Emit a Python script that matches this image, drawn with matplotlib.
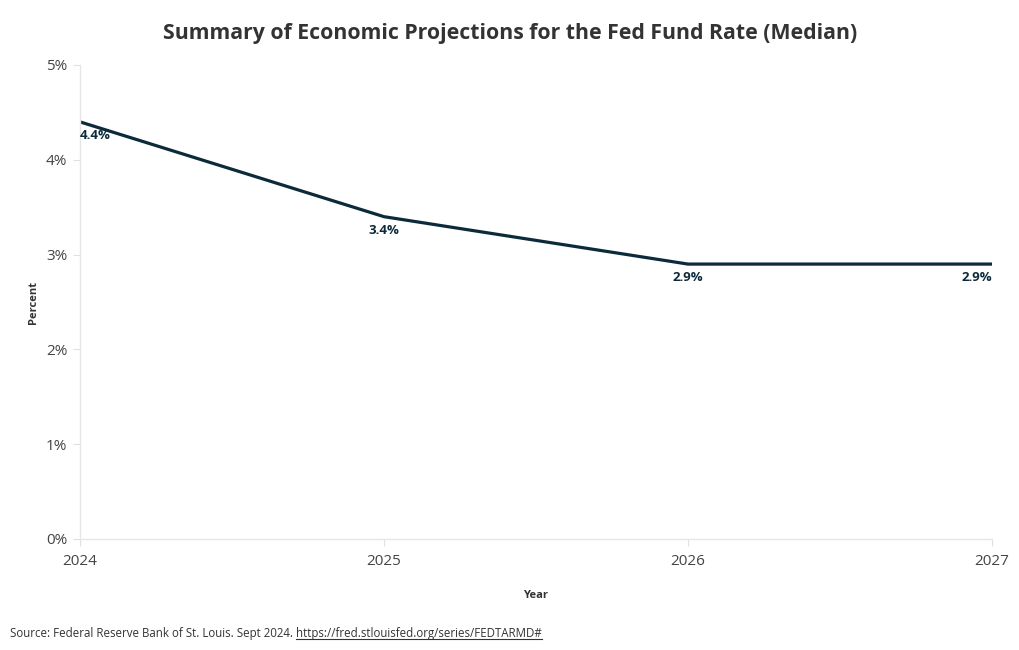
import matplotlib.pyplot as plt
from matplotlib.ticker import FuncFormatter

# Data
years = [2024, 2025, 2026, 2027]
rates = [4.4, 3.4, 2.9, 2.9]
labels = ['4.4%', '3.4%', '2.9%', '2.9%']

plt.rcParams['font.family'] = ['Open Sans', 'DejaVu Sans']

fig = plt.figure(figsize=(10.2, 6.5), dpi=100)
ax = fig.add_axes([80 / 1020, 1 - 539 / 650, 912 / 1020, 474 / 650])

line_color = '#0b2a3a'
ax.plot(years, rates, color=line_color, linewidth=2.3, solid_capstyle='butt')

# point labels, sitting just under each point
for i, (x, y, lab) in enumerate(zip(years, rates, labels)):
    ha = 'left' if i == 0 else ('right' if i == len(years) - 1 else 'center')
    ax.annotate(lab, (x, y), xytext=(0, -5), textcoords='offset points',
                ha=ha, va='top', fontsize=9.5, fontweight='bold', color=line_color)

ax.set_xlim(2024, 2027)
ax.set_ylim(0, 5)
ax.set_xticks(years)
ax.set_yticks([0, 1, 2, 3, 4, 5])
ax.yaxis.set_major_formatter(FuncFormatter(lambda v, p: f'{v:.0f}%'))

for s in ['top', 'right']:
    ax.spines[s].set_visible(False)
for s in ['left', 'bottom']:
    ax.spines[s].set_color('#e6e6e6')
    ax.spines[s].set_linewidth(1)

ax.tick_params(axis='both', colors='#e0e0e0', labelcolor='#444444', labelsize=11, length=5)
ax.tick_params(axis='x', pad=6)
ax.tick_params(axis='y', pad=4)

ax.set_xlabel('Year', fontsize=8, fontweight='bold', color='#333333', labelpad=15)
ax.set_ylabel('Percent', fontsize=8, fontweight='bold', color='#333333', labelpad=5)

fig.text(0.5, 0.949, 'Summary of Economic Projections for the Fed Fund Rate (Median)',
         ha='center', va='center', fontsize=15.3, fontweight='bold', color='#333333')

src = fig.text(10 / 1020, 1 - 633 / 650, 'Source: Federal Reserve Bank of St. Louis. Sept 2024. ',
               ha='left', va='center', fontsize=8.3, color='#333333')
fig.canvas.draw()
bb = src.get_window_extent()
link = fig.text(bb.x1 / 1020, 1 - 633 / 650, 'https://fred.stlouisfed.org/series/FEDTARMD#',
                ha='left', va='center', fontsize=8.3, color='#333333')
link.set_url('https://fred.stlouisfed.org/series/FEDTARMD#')
fig.canvas.draw()
lb = link.get_window_extent()
fig.add_artist(plt.Line2D([lb.x0 / 1020, lb.x1 / 1020], [(lb.y0 + 1) / 650, (lb.y0 + 1) / 650],
                          color='#333333', linewidth=0.8, transform=fig.transFigure))

fig.savefig('out.png', dpi=100)
